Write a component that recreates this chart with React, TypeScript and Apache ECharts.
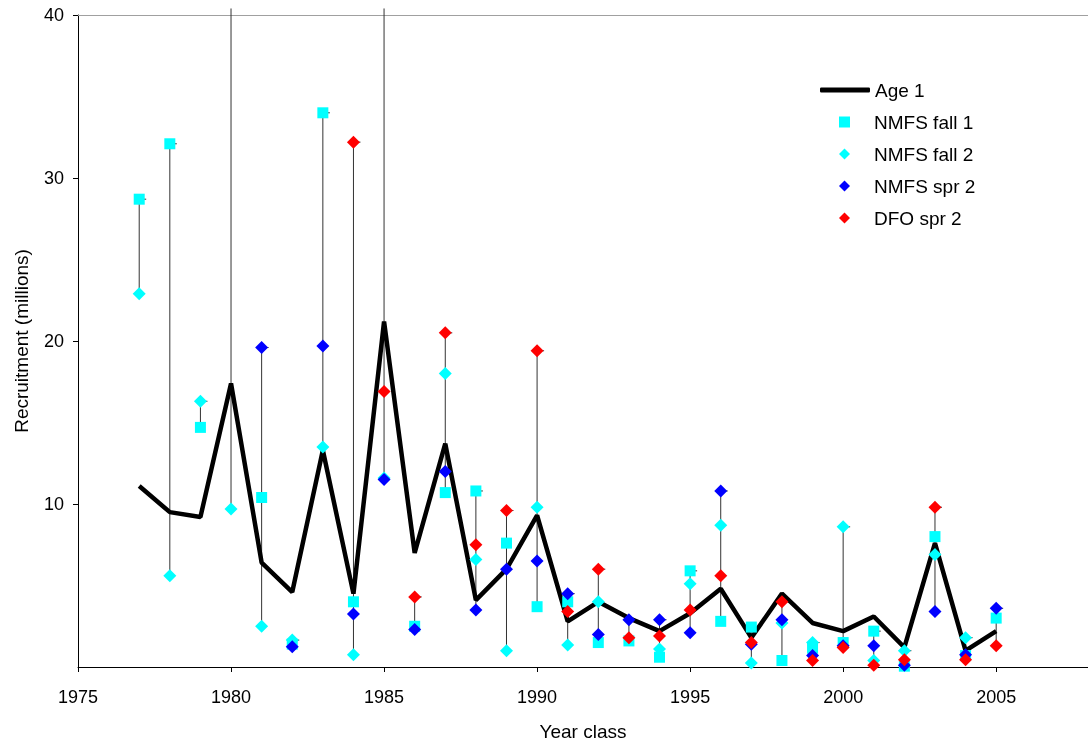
import { useRef, useEffect } from "react";
import * as echarts from "echarts";

// year classes
const years = [
  1977, 1978, 1979, 1980, 1981, 1982, 1983, 1984, 1985, 1986, 1987, 1988, 1989, 1990, 1991,
  1992, 1993, 1994, 1995, 1996, 1997, 1998, 1999, 2000, 2001, 2002, 2003, 2004, 2005,
];

// Age 1 recruitment (millions)
const age1 = [
  11.1, 9.5, 9.2, 17.4, 6.4, 4.6, 13.3, 4.5, 21.2, 7.0, 13.7, 4.1, 6.0, 9.3, 2.8,
  4.0, 3.0, 2.2, 3.3, 4.8, 1.8, 4.5, 2.7, 2.2, 3.1, 1.2, 7.6, 1.0, 2.2,
];

// survey based estimates (1980 and 1985 fall 1 lie just above the axis)
const nmfsFall1 = [
  28.7, 32.1, 14.7, 40.4, 10.4, 1.4, 34.0, 4.0, 40.4, 2.5, 10.7, 10.8, 7.6, 3.7, 4.0,
  1.5, 1.6, 0.6, 5.9, 2.8, 2.45, 0.4, 1.15, 1.5, 2.2, 0.05, 8.0, 0.7, 3.0,
];
const nmfsFall2 = [
  22.9, 5.6, 16.3, 9.7, 2.5, 1.65, 13.5, 0.75, 11.6, null, 18.0, 6.6, 1.0, 9.8, 1.35,
  4.0, null, 1.1, 5.1, 8.7, 0.25, 2.7, 1.5, 8.6, 0.4, 1.0, 6.9, 1.8, null,
];
const nmfsSpr2 = [
  null, null, null, null, 19.6, 1.25, 19.7, 3.25, 11.5, 2.3, 12.0, 3.5, 6.0, 6.5, 4.5,
  2.0, 2.9, 2.9, 2.1, 10.8, 1.4, 2.9, 0.7, 1.3, 1.3, 0.1, 3.4, 0.75, 3.6,
];
const dfoSpr2 = [
  null, null, null, null, null, null, null, 32.2, 16.9, 4.3, 20.5, 7.5, 9.6, 19.4, 3.4,
  6.0, 1.8, 1.9, 3.5, 5.6, 1.5, 4.0, 0.4, 1.2, 0.1, 0.45, 9.8, 0.45, 1.3,
];

const xTicks = [1975, 1980, 1985, 1990, 1995, 2000, 2005];

const FONT = "Liberation Sans";
const Y_MAX = 40;

const toPoints = (arr: Array<number | null>) =>
  years.map((y, i) => [y, arr[i]]).filter((p) => p[1] !== null);

// high-low range per year from the survey series
const highLow = years.map((y, i) => {
  const vals = [nmfsFall1[i], nmfsFall2[i], nmfsSpr2[i], dfoSpr2[i]].filter(
    (v) => v !== null
  ) as number[];
  return [y, Math.min(...vals), Math.max(...vals)];
});

const App = () => {
  const chartRef = useRef<HTMLDivElement>(null);

  useEffect(() => {
    const chart = echarts.init(chartRef.current, null, { renderer: "svg" });

    const legendText = {
      fontFamily: FONT,
      fontSize: 19,
      color: "#000",
      lineHeight: 20,
    };

    const option = {
      animation: false,
      textStyle: { fontFamily: FONT, color: "#000" },
      grid: { left: 78, right: 0, top: 15, bottom: 77 },
      legend: [
        {
          data: [{ name: "Age 1", icon: "roundRect" }],
          left: 815,
          top: 75,
          itemWidth: 50,
          itemHeight: 5,
          textStyle: legendText,
        },
        {
          data: [
            { name: "NMFS fall 1", icon: "rect" },
            { name: "NMFS fall 2", icon: "diamond" },
            { name: "NMFS spr 2", icon: "diamond" },
            { name: "DFO spr 2", icon: "diamond" },
          ],
          orient: "vertical",
          left: 834,
          top: 107,
          itemWidth: 11,
          itemHeight: 11,
          itemGap: 12,
          textStyle: { ...legendText, padding: [0, 0, 0, 19] },
        },
      ],
      xAxis: [
        {
          type: "value",
          min: 1975,
          max: 2008,
          interval: 5,
          name: "Year class",
          nameLocation: "middle",
          nameGap: 55,
          nameTextStyle: { fontFamily: FONT, fontSize: 19, color: "#000" },
          axisLine: { lineStyle: { color: "#000", width: 1 } },
          axisTick: { show: true, length: 5, customValues: xTicks, lineStyle: { color: "#000" } },
          axisLabel: {
            customValues: xTicks,
            formatter: (v: number) => String(v),
            fontFamily: FONT,
            fontSize: 18,
            color: "#000",
            margin: 21,
          },
          splitLine: { show: false },
        },
        {
          type: "value",
          position: "top",
          min: 1975,
          max: 2008,
          axisLine: { show: true, lineStyle: { color: "#a0a0a0", width: 1 } },
          axisTick: { show: false },
          axisLabel: { show: false },
          splitLine: { show: false },
        },
      ],
      yAxis: {
        type: "value",
        min: 0,
        max: Y_MAX,
        interval: 10,
        name: "Recruitment (millions)",
        nameLocation: "middle",
        nameGap: 47,
        nameTextStyle: { fontFamily: FONT, fontSize: 19, color: "#000" },
        axisLine: { show: true, lineStyle: { color: "#000", width: 1 } },
        axisTick: { show: true, length: 5, lineStyle: { color: "#000" } },
        axisLabel: {
          showMinLabel: false,
          fontFamily: FONT,
          fontSize: 18,
          color: "#000",
          margin: 14,
        },
        splitLine: { show: false },
      },
      series: [
        {
          name: "highlow",
          type: "custom",
          z: 1,
          silent: true,
          clip: false,
          data: highLow,
          encode: { x: 0, y: [1, 2] },
          renderItem: (_params: any, api: any) => {
            const low = api.coord([api.value(0), api.value(1)]);
            const high = api.coord([api.value(0), api.value(2)]);
            const style = { stroke: "#333", lineWidth: 1 };
            const children: any[] = [
              {
                type: "line",
                shape: { x1: low[0], y1: low[1], x2: high[0], y2: high[1] },
                style,
              },
            ];
            if (api.value(2) <= Y_MAX) {
              children.push({
                type: "line",
                shape: { x1: high[0], y1: high[1], x2: high[0] + 7, y2: high[1] },
                style,
              });
            }
            return { type: "group", children };
          },
        },
        {
          name: "Age 1",
          type: "line",
          z: 2,
          data: toPoints(age1),
          showSymbol: false,
          symbol: "none",
          itemStyle: { color: "#000" },
          lineStyle: { color: "#000", width: 4.5 },
        },
        {
          name: "NMFS fall 1",
          type: "scatter",
          z: 3,
          symbol: "rect",
          symbolSize: 11,
          itemStyle: { color: "#00ffff", opacity: 1 },
          data: toPoints(nmfsFall1),
        },
        {
          name: "NMFS fall 2",
          type: "scatter",
          z: 4,
          symbol: "diamond",
          symbolSize: 13,
          itemStyle: { color: "#00ffff", opacity: 1 },
          data: toPoints(nmfsFall2),
        },
        {
          name: "NMFS spr 2",
          type: "scatter",
          z: 5,
          symbol: "diamond",
          symbolSize: 13,
          itemStyle: { color: "#0000ff", opacity: 1 },
          data: toPoints(nmfsSpr2),
        },
        {
          name: "DFO spr 2",
          type: "scatter",
          z: 6,
          symbol: "diamond",
          symbolSize: 13,
          itemStyle: { color: "#ff0000", opacity: 1 },
          data: toPoints(dfoSpr2),
        },
      ],
    };

    chart.setOption(option);

    return () => {
      chart.dispose();
    };
  }, []);

  return (
    <div
      ref={chartRef}
      style={{ position: "fixed", left: 0, top: 0, width: "1088px", height: "746px" }}
    ></div>
  );
};

export default App;
